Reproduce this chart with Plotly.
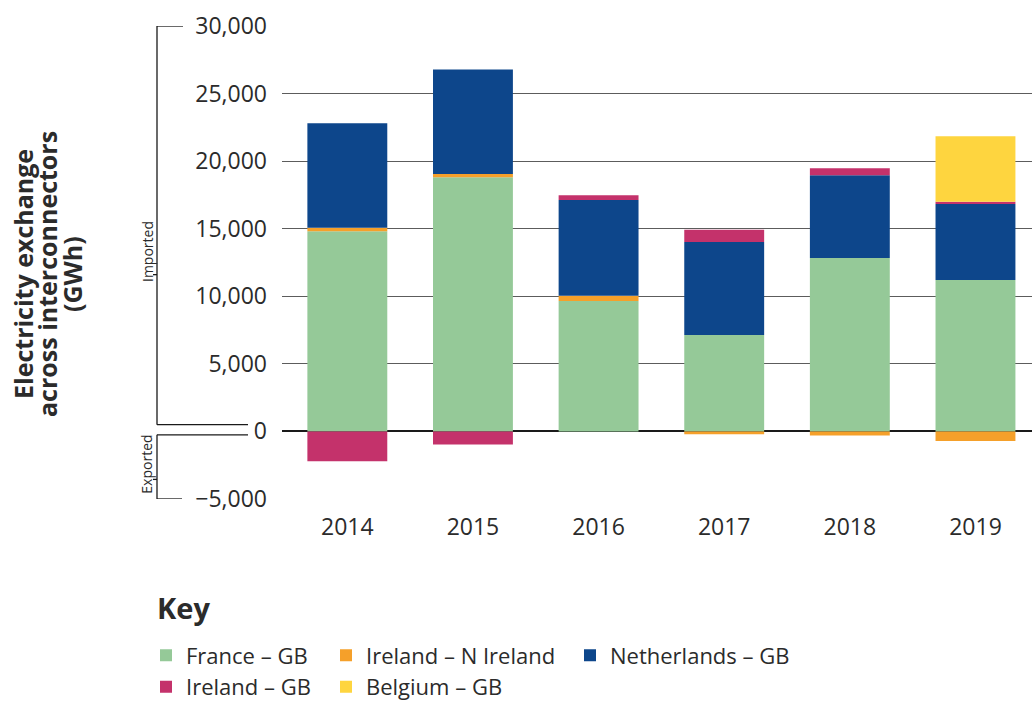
import plotly.graph_objects as go

years = ["2014", "2015", "2016", "2017", "2018", "2019"]
france_gb = [14820, 18810, 9650, 7140, 12830, 11200]
ireland_ni = [250, 240, 390, -200, -300, -700]
netherlands_gb = [7730, 7730, 7090, 6870, 6130, 5620]
ireland_gb = [-2200, -960, 350, 910, 520, 170]
belgium_gb = [0, 0, 0, 0, 0, 4850]
y_ticks = [-5000, 0, 5000, 10000, 15000, 20000, 25000, 30000]
y_title_lines = ["Electricity exchange", "across interconnectors", "(GWh)"]

FONT = "Open Sans"
TXT = "#2b2b2b"

W, H = 1032, 702
L, R = 282, 0
T = 25.6
B = round(H - 499.4, 1)
PW, PH = W - L - R, H - T - B


def px_x(sx):
    """screen x pixel -> paper x"""
    return (sx - L) / PW


def px_y(sy):
    """screen y pixel -> paper y"""
    return (H - B - sy) / PH


fig = go.Figure()
series = [
    ("France – GB", france_gb, "#95C998", "legend"),
    ("Ireland – N Ireland", ireland_ni, "#F5A02A", "legend2"),
    ("Netherlands – GB", netherlands_gb, "#0D468B", "legend3"),
    ("Ireland – GB", ireland_gb, "#C4326B", "legend"),
    ("Belgium – GB", belgium_gb, "#FED53F", "legend2"),
]
for name, vals, col, lg in series:
    fig.add_trace(go.Bar(
        x=years, y=vals, name=name, marker=dict(color=col, line=dict(width=0)),
        legend=lg, hoverinfo="x+y+name",
    ))

legend_common = dict(
    orientation="v", yanchor="top", xanchor="left",
    font=dict(family=FONT, size=22, color=TXT),
    bgcolor="rgba(0,0,0,0)", tracegroupgap=0, traceorder="normal",
)
ly = px_y(635)
fig.update_layout(
    template="none",
    width=W, height=H,
    margin=dict(l=L, r=R, t=T, b=B, autoexpand=False),
    paper_bgcolor="white", plot_bgcolor="white",
    barmode="relative", bargap=0.364,
    font=dict(family=FONT, color=TXT),
    legend=dict(x=px_x(146), y=ly, **legend_common),
    legend2=dict(x=px_x(326), y=ly, **legend_common),
    legend3=dict(x=px_x(570), y=ly, **legend_common),
    xaxis=dict(
        type="category", range=[-0.52, 5.45],
        showgrid=False, showline=False, zeroline=False,
        ticks="", tickfont=dict(family=FONT, size=23, color=TXT),
        ticklabelstandoff=12, fixedrange=True, automargin=False,
    ),
    yaxis=dict(
        range=[-5000, 30000], tickvals=y_ticks, tickformat=",d",
        showgrid=True, gridcolor="#5c5c5c", gridwidth=1.2,
        zeroline=True, zerolinecolor="#1a1a1a", zerolinewidth=1.6,
        showline=False, ticks="", tickfont=dict(family=FONT, size=23, color=TXT),
        ticklabelstandoff=14, fixedrange=True, automargin=False,
    ),
    showlegend=True,
)

line = dict(color="#1a1a1a", width=1.3)
bx = px_x(157)
shapes = [
    dict(type="line", xref="paper", yref="y", x0=bx, x1=bx, y0=30000, y1=500),
    dict(type="line", xref="paper", yref="y", x0=bx, x1=px_x(183), y0=30000, y1=30000),
    dict(type="line", xref="paper", yref="y", x0=bx, x1=px_x(248), y0=500, y1=500),
    dict(type="line", xref="paper", yref="y", x0=px_x(153), x1=bx, y0=11600, y1=11600),
    dict(type="line", xref="paper", yref="y", x0=bx, x1=bx, y0=-250, y1=-5000),
    dict(type="line", xref="paper", yref="y", x0=bx, x1=px_x(248), y0=-250, y1=-250),
    dict(type="line", xref="paper", yref="y", x0=bx, x1=px_x(182), y0=-5000, y1=-5000),
    dict(type="line", xref="paper", yref="y", x0=px_x(153), x1=bx, y0=-3550, y1=-3550),
]
for s in shapes:
    s["line"] = line
fig.update_layout(shapes=shapes)

for txt, xpx in zip(y_title_lines, [23, 47, 72]):
    fig.add_annotation(
        text=txt, xref="paper", yref="paper", x=px_x(xpx), y=px_y(274),
        xanchor="center", yanchor="middle", textangle=-90, showarrow=False,
        font=dict(family=FONT, size=25, color=TXT, weight="bold"),
    )
fig.add_annotation(
    text="Imported", xref="paper", yref="paper", x=px_x(147), y=px_y(252),
    xanchor="center", yanchor="middle", textangle=-90, showarrow=False,
    font=dict(family=FONT, size=14, color=TXT),
)
fig.add_annotation(
    text="Exported", xref="paper", yref="paper", x=px_x(147), y=px_y(465),
    xanchor="center", yanchor="middle", textangle=-90, showarrow=False,
    font=dict(family=FONT, size=14, color=TXT),
)
fig.add_annotation(
    text="Key", xref="paper", yref="paper", x=px_x(155), y=px_y(608),
    xanchor="left", yanchor="middle", showarrow=False,
    font=dict(family=FONT, size=29, color=TXT, weight="bold"),
)

fig.write_html(
    "out.html",
    config={"displayModeBar": False},
    post_script="document.body.style.margin='0';document.body.style.overflow='hidden';",
)
